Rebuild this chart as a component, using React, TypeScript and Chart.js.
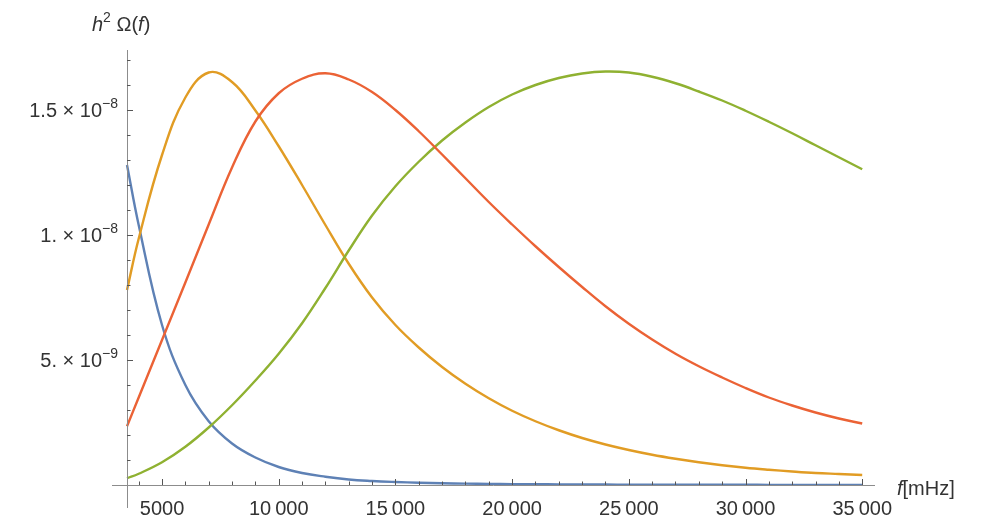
import React, { useEffect, useRef } from "react";
import { Chart, registerables } from "chart.js";

Chart.register(...registerables);

// frequency f in mHz
const frequencies = [
  3500, 4000, 5000, 6000, 7000, 8000, 9000, 10000, 11000, 12000, 13000, 14000,
  15000, 16000, 17000, 18000, 19000, 20000, 21000, 22000, 23000, 24000, 25000,
  26000, 27000, 28000, 29000, 30000, 31000, 32000, 33000, 34000, 35000,
];

// h^2 Omega(f) in units of 1e-9
const seriesBlue = [
  12.8, 10.4, 6.4, 4.0, 2.55, 1.66, 1.1, 0.72, 0.48, 0.33, 0.22, 0.16,
  0.12, 0.09, 0.07, 0.055, 0.045, 0.037, 0.03, 0.025, 0.021, 0.018, 0.015,
  0.013, 0.011, 0.01, 0.009, 0.008, 0.007, 0.006, 0.005, 0.005, 0.004,
];
const seriesOrange = [
  7.8, 9.85, 13.2, 15.5, 16.5, 16.12, 14.98, 13.55, 12.0, 10.4, 8.85, 7.5,
  6.4, 5.5, 4.72, 4.05, 3.47, 2.97, 2.55, 2.19, 1.88, 1.62, 1.4,
  1.21, 1.05, 0.91, 0.79, 0.69, 0.61, 0.54, 0.48, 0.44, 0.4,
];
const seriesGreen = [
  0.27, 0.45, 0.91, 1.53, 2.3, 3.19, 4.18, 5.25, 6.47, 7.88, 9.38, 10.78,
  11.95, 12.93, 13.78, 14.5, 15.12, 15.62, 16.0, 16.28, 16.46, 16.54, 16.5,
  16.33, 16.07, 15.74, 15.38, 14.97, 14.53, 14.07, 13.59, 13.11, 12.63,
];
const seriesRed = [
  2.35, 3.5, 5.8, 8.1, 10.42, 12.7, 14.54, 15.67, 16.25, 16.47, 16.22, 15.72,
  15.0, 14.15, 13.22, 12.27, 11.32, 10.42, 9.55, 8.72, 7.92, 7.15, 6.45,
  5.82, 5.25, 4.75, 4.3, 3.88, 3.5, 3.18, 2.9, 2.66, 2.46,
];

const seriesColors = ["#5E81B5", "#E19C24", "#8FB131", "#EB6235"];

const xMajorTicks = [5000, 10000, 15000, 20000, 25000, 30000, 35000];
const xTickLabels = ["5000", "10\u2009000", "15\u2009000", "20\u2009000", "25\u2009000", "30\u2009000", "35\u2009000"];
const xMinorTicks = [
  4000, 6000, 7000, 8000, 9000, 11000, 12000, 13000, 14000, 16000, 17000, 18000,
  19000, 21000, 22000, 23000, 24000, 26000, 27000, 28000, 29000, 31000, 32000,
  33000, 34000,
];
const yMajorTicks = [5, 10, 15];
const yTickMantissas = ["5.", "1.", "1.5"];
const yTickExponents = ["\u22129", "\u22128", "\u22128"];
const yMinorTicks = [1, 2, 3, 4, 6, 7, 8, 9, 11, 12, 13, 14, 16, 17];

type Run = { t: string; it?: boolean; sup?: boolean };

const FAMILY = '"Liberation Sans", Arial, sans-serif';
const BASE = 20;
const SUP = 14;

function fontFor(r: Run) {
  return `${r.it ? "italic " : ""}${r.sup ? SUP : BASE}px ${FAMILY}`;
}

function drawRuns(ctx: CanvasRenderingContext2D, runs: Run[], x: number, baseline: number, align: "left" | "right" | "center") {
  let total = 0;
  const widths = runs.map((r) => {
    ctx.font = fontFor(r);
    const w = ctx.measureText(r.t).width;
    total += w;
    return w;
  });
  let cx = align === "left" ? x : align === "right" ? x - total : x - total / 2;
  ctx.textAlign = "left";
  ctx.textBaseline = "alphabetic";
  runs.forEach((r, i) => {
    ctx.font = fontFor(r);
    ctx.fillText(r.t, cx, r.sup ? baseline - 9 : baseline);
    cx += widths[i];
  });
}

const axesPlugin = {
  id: "mathematicaAxes",
  afterDraw(chart: any) {
    const ctx: CanvasRenderingContext2D = chart.ctx;
    const xs = chart.scales.x;
    const ys = chart.scales.y;
    const area = chart.chartArea;
    const x0 = xs.getPixelForValue(3500);
    const y0 = ys.getPixelForValue(0);
    ctx.save();
    ctx.strokeStyle = "#8c8c8c";
    ctx.lineWidth = 1;
    ctx.beginPath();
    ctx.moveTo(area.left, y0 + 0.5);
    ctx.lineTo(area.right, y0 + 0.5);
    ctx.moveTo(x0 + 0.5, area.top);
    ctx.lineTo(x0 + 0.5, area.bottom);
    ctx.stroke();

    ctx.strokeStyle = "#555";
    ctx.beginPath();
    xMajorTicks.forEach((v) => {
      const p = Math.round(xs.getPixelForValue(v)) + 0.5;
      ctx.moveTo(p, y0);
      ctx.lineTo(p, y0 - 6);
    });
    xMinorTicks.forEach((v) => {
      const p = Math.round(xs.getPixelForValue(v)) + 0.5;
      ctx.moveTo(p, y0);
      ctx.lineTo(p, y0 - 3.5);
    });
    yMajorTicks.forEach((v) => {
      const p = Math.round(ys.getPixelForValue(v)) + 0.5;
      ctx.moveTo(x0, p);
      ctx.lineTo(x0 + 6, p);
    });
    yMinorTicks.forEach((v) => {
      const p = Math.round(ys.getPixelForValue(v)) + 0.5;
      ctx.moveTo(x0, p);
      ctx.lineTo(x0 + 3.5, p);
    });
    ctx.stroke();

    ctx.fillStyle = "#333";
    xMajorTicks.forEach((v, i) => {
      const p = xs.getPixelForValue(v);
      drawRuns(ctx, [{ t: xTickLabels[i] }], p, y0 + 30, "center");
    });
    yMajorTicks.forEach((v, i) => {
      const p = ys.getPixelForValue(v);
      drawRuns(
        ctx,
        [{ t: yTickMantissas[i] + " \u00d7 10" }, { t: yTickExponents[i], sup: true }],
        x0 - 9,
        p + 7,
        "right"
      );
    });

    // axis labels
    drawRuns(
      ctx,
      [{ t: "h", it: true }, { t: "2", sup: true }, { t: " \u03a9(" }, { t: "f", it: true }, { t: ")" }],
      92,
      31,
      "left"
    );
    drawRuns(ctx, [{ t: "f", it: true }, { t: "[mHz]" }], 897, 495, "left");
    ctx.restore();
  },
};

export default function App() {
  const canvasRef = useRef<HTMLCanvasElement | null>(null);

  useEffect(() => {
    const canvas = canvasRef.current;
    if (!canvas) return;
    const names = ["blue", "orange", "green", "red"];
    const all = [seriesBlue, seriesOrange, seriesGreen, seriesRed];
    const chart = new Chart(canvas, {
      type: "line",
      data: {
        datasets: all.map((s, i) => ({
          label: names[i],
          data: frequencies.map((f, j) => ({ x: f, y: s[j] })),
          borderColor: seriesColors[i],
          borderWidth: 2.4,
          pointRadius: 0,
          fill: false,
          tension: 0.4,
          order: 4 - i,
        })),
      },
      options: {
        responsive: false,
        animation: false,
        layout: { padding: { left: 112, right: 106, top: 50, bottom: 15 } },
        plugins: { legend: { display: false }, tooltip: { enabled: false } },
        scales: {
          x: { type: "linear", min: 2857, max: 35548, display: false },
          y: { type: "linear", min: -0.92, max: 17.4, display: false },
        },
      },
      plugins: [axesPlugin],
    });
    return () => chart.destroy();
  }, []);

  return (
    <div style={{ position: "fixed", left: 0, top: 0, width: 981, height: 523, background: "#fff" }}>
      <canvas ref={canvasRef} width={981} height={523} style={{ display: "block" }} />
    </div>
  );
}
